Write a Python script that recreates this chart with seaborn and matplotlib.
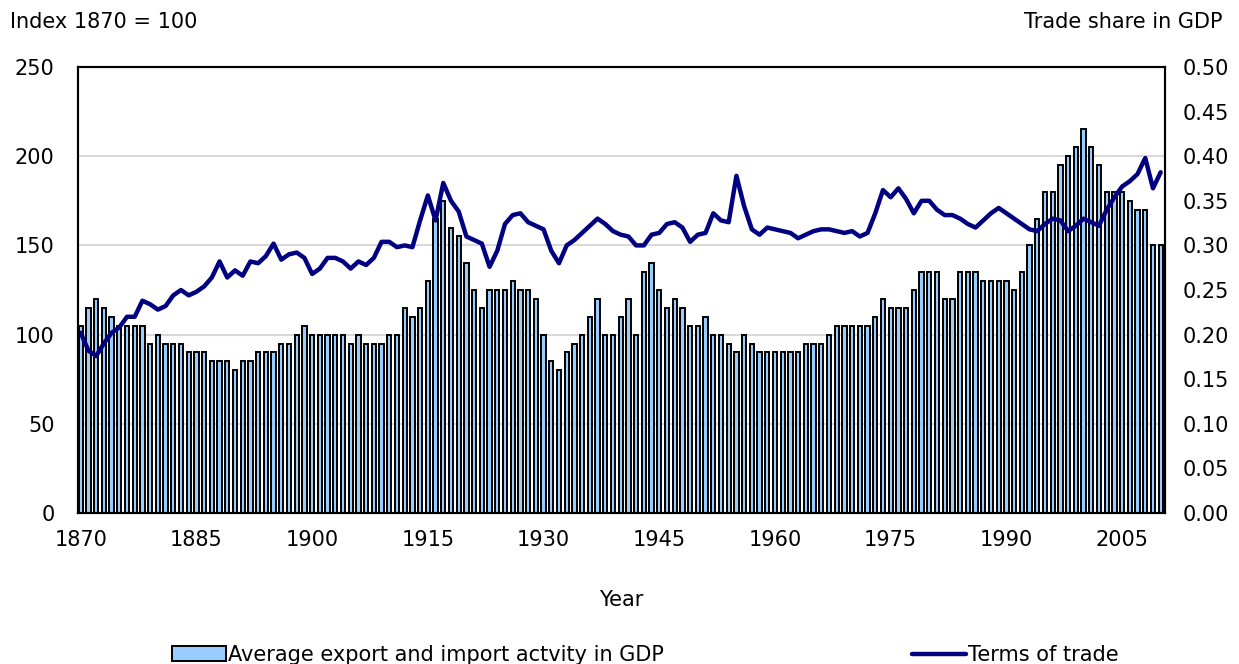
import numpy as np
import pandas as pd
import seaborn as sns
import matplotlib.pyplot as plt

# data
years = list(range(1870, 2011))

# average export and import activity in GDP (share), read in steps of 0.01
trade_share = [
    0.21, 0.23, 0.24, 0.23, 0.22, 0.21, 0.21, 0.21, 0.21, 0.19,  # 1870s
    0.20, 0.19, 0.19, 0.19, 0.18, 0.18, 0.18, 0.17, 0.17, 0.17,  # 1880s
    0.16, 0.17, 0.17, 0.18, 0.18, 0.18, 0.19, 0.19, 0.20, 0.21,  # 1890s
    0.20, 0.20, 0.20, 0.20, 0.20, 0.19, 0.20, 0.19, 0.19, 0.19,  # 1900s
    0.20, 0.20, 0.23, 0.22, 0.23, 0.26, 0.33, 0.35, 0.32, 0.31,  # 1910s
    0.28, 0.25, 0.23, 0.25, 0.25, 0.25, 0.26, 0.25, 0.25, 0.24,  # 1920s
    0.20, 0.17, 0.16, 0.18, 0.19, 0.20, 0.22, 0.24, 0.20, 0.20,  # 1930s
    0.22, 0.24, 0.20, 0.27, 0.28, 0.25, 0.23, 0.24, 0.23, 0.21,  # 1940s
    0.21, 0.22, 0.20, 0.20, 0.19, 0.18, 0.20, 0.19, 0.18, 0.18,  # 1950s
    0.18, 0.18, 0.18, 0.18, 0.19, 0.19, 0.19, 0.20, 0.21, 0.21,  # 1960s
    0.21, 0.21, 0.21, 0.22, 0.24, 0.23, 0.23, 0.23, 0.25, 0.27,  # 1970s
    0.27, 0.27, 0.24, 0.24, 0.27, 0.27, 0.27, 0.26, 0.26, 0.26,  # 1980s
    0.26, 0.25, 0.27, 0.30, 0.33, 0.36, 0.36, 0.39, 0.40, 0.41,  # 1990s
    0.43, 0.41, 0.39, 0.36, 0.36, 0.36, 0.35, 0.34, 0.34, 0.30,  # 2000s
    0.30,                                                        # 2010
]

# terms of trade, index 1870 = 100
terms_of_trade = [
    101, 91, 88, 95, 101, 104, 110, 110, 119, 117,
    114, 116, 122, 125, 122, 124, 127, 132, 141, 132,
    136, 133, 141, 140, 144, 151, 142, 145, 146, 143,
    134, 137, 143, 143, 141, 137, 141, 139, 143, 152,
    152, 149, 150, 149, 164, 178, 164, 185, 175, 169,
    155, 153, 151, 138, 147, 162, 167, 168, 163, 161,
    159, 147, 140, 150, 153, 157, 161, 165, 162, 158,
    156, 155, 150, 150, 156, 157, 162, 163, 160, 152,
    156, 157, 168, 164, 163, 189, 172, 159, 156, 160,
    159, 158, 157, 154, 156, 158, 159, 159, 158, 157,
    158, 155, 157, 168, 181, 177, 182, 176, 168, 175,
    175, 170, 167, 167, 165, 162, 160, 164, 168, 171,
    168, 165, 162, 159, 158, 162, 165, 164, 158, 161,
    165, 163, 161, 170, 177, 183, 186, 190, 199, 182,
    191,
]

xtick_years = list(range(1870, 2006, 15))

bar_label = 'Average export and import actvity in GDP'
line_label = 'Terms of trade'

sns.set_style('white')
plt.rcParams['font.family'] = ['DejaVu Sans']
plt.rcParams['text.color'] = 'black'
plt.rcParams['xtick.color'] = 'black'
plt.rcParams['ytick.color'] = 'black'
FS = 15

df = pd.DataFrame({'year': years, 'share': trade_share, 'tot': terms_of_trade})

fig, ax = plt.subplots(figsize=(12.39, 6.64), dpi=100)
ax2 = ax.twinx()

# grid lines under the bars (every 50 on the index axis)
for g in [0.1, 0.2, 0.3, 0.4]:
    ax2.axhline(g, color='#D9D9D9', linewidth=1.5, zorder=0)

# bars on the right (share) axis, line on the left (index) axis
sns.barplot(data=df, x='year', y='share', native_scale=True, ax=ax2,
            color='#99CCFF', saturation=1, edgecolor='black', linewidth=1.4,
            width=0.55, errorbar=None, label=bar_label)
sns.lineplot(data=df, x='year', y='tot', ax=ax, color='#000080',
             linewidth=3.2, label=line_label)

# line above the bars
ax.set_zorder(ax2.get_zorder() + 1)
ax.patch.set_visible(False)

ax.set_ylim(0, 250)
ax.set_yticks(range(0, 251, 50))
ax2.set_ylim(0, 0.5)
ax2.set_yticks(np.arange(0, 0.51, 0.05))
ax2.set_yticklabels(['{:.2f}'.format(v) for v in np.arange(0, 0.51, 0.05)])
ax.set_xlim(1869.65, 2010.56)
ax.set_xticks(xtick_years)
ax.set_xticklabels([str(y) for y in xtick_years])

ax.grid(False)
ax2.grid(False)

ax.set_xlabel('')
ax.set_ylabel('')
ax2.set_ylabel('')
ax.tick_params(axis='y', length=0, pad=17, labelsize=FS, labelcolor='black')
ax.tick_params(axis='x', length=0, pad=12, labelsize=FS, labelcolor='black')
ax2.tick_params(axis='y', length=0, pad=13, labelsize=FS, labelcolor='black')

for a in (ax, ax2):
    for s in a.spines.values():
        s.set_color('black')
        s.set_linewidth(1.5)

h1, l1 = ax2.get_legend_handles_labels()
h2, l2 = ax.get_legend_handles_labels()
for a in (ax, ax2):
    if a.get_legend() is not None:
        a.get_legend().remove()

fig.subplots_adjust(left=78 / 1239, right=1165 / 1239, top=1 - 67 / 664, bottom=1 - 513 / 664)

fig.text(10 / 1239, 1 - 22 / 664, 'Index 1870 = 100', fontsize=FS, va='center', ha='left')
fig.text(1222 / 1239, 1 - 22 / 664, 'Trade share in GDP', fontsize=FS, va='center', ha='right')
fig.text(621 / 1239, 1 - 600 / 664, 'Year', fontsize=FS, va='center', ha='center')

fig.legend(h1[:1] + h2[:1], [bar_label, line_label], loc='center',
           bbox_to_anchor=(645 / 1239, 1 - 655 / 664), ncol=2, frameon=False,
           fontsize=FS, handlelength=2.6, handleheight=0.7, handletextpad=0.1,
           columnspacing=11.9, borderpad=0)

fig.savefig('out.png', dpi=100)
